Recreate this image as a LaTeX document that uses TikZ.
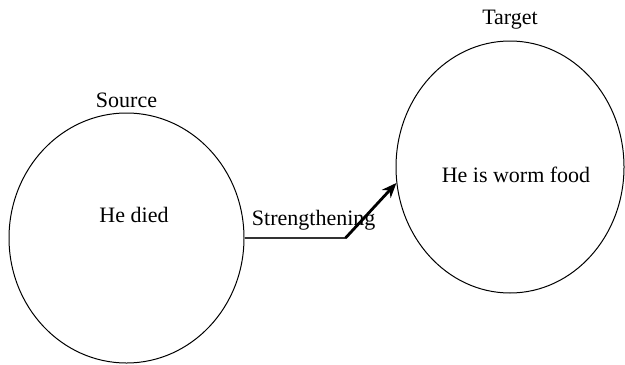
\documentclass[tikz,border=0pt]{standalone}
\usepackage{fontspec}
\setmainfont{Liberation Serif}
\newfontfamily\serifface{Liberation Serif}
\usetikzlibrary{arrows.meta, positioning, shapes.geometric}

\begin{document}
\begin{tikzpicture}[
    x=0.5pt, y=-0.5pt,
    >={Stealth[length=7.5pt,width=6pt]},
    font=\serifface\fontsize{11}{13}\selectfont,
    realm/.style={ellipse, draw=black, line width=0.5pt, inner sep=0pt},
    content/.style={inner sep=0pt},
    link/.style={line width=0.8pt, draw=black!80},
]
\useasboundingbox (0,0) rectangle (625,364);

\node[realm, minimum width=117.5pt, minimum height=125pt,
      label={[label distance=-1pt]above:Source}] (src) at (126.5,238) {};
\node[realm, minimum width=114pt, minimum height=126pt,
      label={[label distance=2pt]above:Target}]  (tgt) at (510,167)   {};
\node[content] (srctext) at (134,215) {He died};
\node[content] (tgttext) at (516,175) {He is worm food};

\coordinate (kink) at ([xshift=50.5pt]src.east);

\draw[link] (src.east) -- node[pos=0, above right]{Strengthening} (kink);
\draw[link, ->, line width=1.4pt, draw=black] (kink) -- (tgt.188);

\end{tikzpicture}
\end{document}
